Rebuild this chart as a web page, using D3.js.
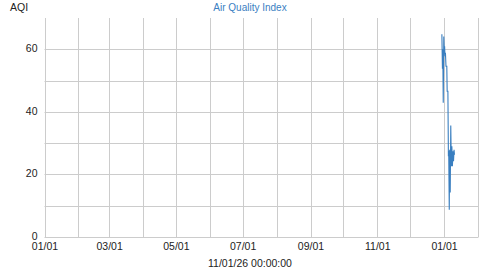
<!DOCTYPE html>
<html>
<head>
<meta charset="utf-8">
<script src="https://cdn.jsdelivr.net/npm/d3@7"></script>
<style>
  html, body { margin: 0; padding: 0; background: #fff; }
  svg { display: block; font-family: "Liberation Sans", Arial, sans-serif; }
</style>
</head>
<body>
<svg id="chart" width="500" height="270"></svg>
<script>
const titleText = "Air Quality Index";
const yLabel = "AQI";
const footerText = "11/01/26 00:00:00";
const xDomain = ["2025-01-01T00:00:00", "2026-02-01T00:00:00"];
const yDomain = [0, 70];
const yTickValues = [0, 20, 40, 60];
const yGridValues = [0, 10, 20, 30, 40, 50, 60];

const times = [
  "2025-12-30T00:00", "2025-12-30T12:00", "2025-12-30T20:00", "2025-12-31T06:00",
  "2025-12-31T18:00", "2026-01-01T06:00", "2026-01-01T12:00", "2026-01-01T20:00",
  "2026-01-02T06:00", "2026-01-02T18:00", "2026-01-03T12:00", "2026-01-03T20:00",
  "2026-01-04T12:00", "2026-01-04T23:00", "2026-01-05T06:00", "2026-01-05T18:00",
  "2026-01-06T03:00", "2026-01-06T15:00", "2026-01-07T03:00", "2026-01-07T15:00",
  "2026-01-08T03:00", "2026-01-08T15:00", "2026-01-09T03:00", "2026-01-09T15:00",
  "2026-01-10T03:00", "2026-01-10T12:00"
];
const aqi = [
  64.8, 53.8, 60, 42.9,
  64.1, 58.4, 61, 57.8,
  58.9, 54.6, 54.6, 46.6,
  46.6, 25.8, 27.4, 8.7,
  27.9, 14.2, 35.6, 22.6,
  29, 22.6, 27.4, 24.2,
  27.9, 26.3
];

const parse = d3.isoParse;
const data = times.map((t, i) => ({ t: parse(t), v: aqi[i] }));

const margin = { left: 44.5, right: 22, top: 18, bottom: 33 };
const W = 500, H = 270;
const svg = d3.select("#chart");

const x = d3.scaleTime()
  .domain(xDomain.map(parse))
  .range([margin.left, W - margin.right]);
const y = d3.scaleLinear()
  .domain(yDomain)
  .range([H - margin.bottom, margin.top]);

const gridColor = "#cccccc";

// vertical grid: monthly
const months = d3.timeMonth.range(parse(xDomain[0]), d3.timeDay.offset(parse(xDomain[1]), 1));
svg.append("g").selectAll("line").data(months).join("line")
  .attr("x1", d => Math.round(x(d)) + 0.5).attr("x2", d => Math.round(x(d)) + 0.5)
  .attr("y1", y(yDomain[1])).attr("y2", Math.round(y(0)) + 0.5)
  .attr("stroke", gridColor).attr("stroke-width", 1);

// horizontal grid
svg.append("g").selectAll("line").data(yGridValues).join("line")
  .attr("x1", margin.left).attr("x2", W - margin.right)
  .attr("y1", d => Math.round(y(d)) + 0.5).attr("y2", d => Math.round(y(d)) + 0.5)
  .attr("stroke", gridColor).attr("stroke-width", 1);

// y axis labels
const yAxis = d3.axisLeft(y).tickValues(yTickValues).tickSize(0).tickPadding(7).tickFormat(d3.format("d"));
const gy = svg.append("g").attr("transform", `translate(${margin.left},-1)`).call(yAxis);
gy.select(".domain").remove();
gy.selectAll("text").attr("font-size", "10.5px").attr("fill", "#222").attr("font-family", "Liberation Sans, Arial, sans-serif");

// x axis labels
const xTicks = d3.timeMonth.every(2).range(parse(xDomain[0]), parse(xDomain[1]));
const xAxis = d3.axisBottom(x).tickValues(xTicks).tickSize(0).tickPadding(6).tickFormat(d3.timeFormat("%m/%d"));
const gx = svg.append("g").attr("transform", `translate(0,${y(0)})`).call(xAxis);
gx.select(".domain").remove();
gx.selectAll("text").attr("font-size", "10.5px").attr("fill", "#222").attr("font-family", "Liberation Sans, Arial, sans-serif");

// line
const line = d3.line().x(d => x(d.t)).y(d => y(d.v));
svg.append("path").datum(data)
  .attr("d", line)
  .attr("fill", "none")
  .attr("stroke", "#3a7fc0")
  .attr("stroke-width", 1.1);

// title & labels
svg.append("text").attr("x", 250).attr("y", 10.5).attr("text-anchor", "middle")
  .attr("font-size", "10px").attr("fill", "#3a80c2").text(titleText);
svg.append("text").attr("x", 10).attr("y", 10.8)
  .attr("font-size", "10.5px").attr("fill", "#222").text(yLabel);
svg.append("text").attr("x", 250).attr("y", 266.5).attr("text-anchor", "middle")
  .attr("font-size", "10.5px").attr("fill", "#222").text(footerText);
</script>
</body>
</html>
